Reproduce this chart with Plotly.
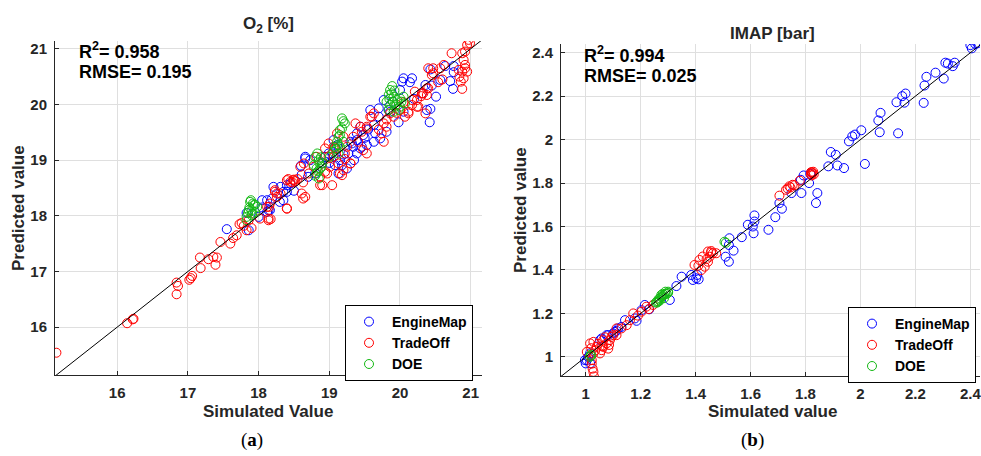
import plotly.graph_objects as go

# ---- O2 [%] panel: (simulated, predicted) per data source ----
o2_engine_sim = [17.55, 17.86, 17.83, 18.0, 18.12, 18.3, 18.35, 18.16, 18.12, 18.21, 18.31, 18.4,
                 18.45, 18.61, 18.66, 18.8, 18.94, 18.99, 19.06, 19.08, 19.15, 19.13, 19.25, 19.27,
                 19.34, 19.39, 19.46, 19.39, 19.32, 19.11, 19.3, 19.44, 19.53, 19.39, 19.48, 19.63,
                 19.72, 19.65, 19.81, 19.63, 19.7, 19.7, 19.58, 19.86, 20.05, 19.98, 20.0, 20.03,
                 20.05, 20.14, 20.17, 20.31, 20.36, 20.42, 20.38, 20.43, 20.51, 20.45, 20.43, 20.57,
                 20.64, 20.76, 20.76, 20.71, 20.75, 19.77, 19.84, 19.44, 18.6, 18.7, 18.9, 19.2,
                 19.0, 18.5, 18.05, 19.55, 19.9, 20.2, 19.35, 19.5, 18.66, 18.05, 18.4, 18.35,
                 18.19, 18.14, 18.73, 18.94, 19.04, 19.18, 19.08]
o2_engine_pred = [17.76, 17.74, 18.05, 17.98, 18.07, 18.25, 18.28, 18.1, 18.28, 18.52, 18.52, 18.43,
                  18.58, 18.74, 19.03, 18.76, 19.06, 19.12, 19.36, 19.24, 19.0, 18.76, 18.85, 19.12,
                  19.24, 19.12, 19.24, 19.36, 19.3, 19.27, 19.33, 19.21, 19.27, 19.48, 19.45, 19.33,
                  19.39, 19.48, 19.51, 19.63, 19.78, 19.93, 19.9, 19.87, 19.87, 19.68, 20.26, 20.41,
                  20.47, 20.4, 20.47, 20.2, 20.35, 19.68, 19.9, 19.92, 20.14, 20.34, 20.63, 20.44,
                  20.69, 20.69, 20.58, 20.42, 20.28, 20.08, 19.9, 19.6, 18.9, 18.7, 18.95, 19.1,
                  18.95, 18.45, 18.15, 19.55, 20.05, 20.1, 19.0, 19.4, 19.06, 18.28, 18.55, 18.43,
                  18.31, 18.1, 19.0, 19.06, 19.12, 18.91, 18.91]

o2_trade_sim = [15.14, 16.14, 16.22, 16.23, 16.84, 16.86, 16.84, 17.02, 17.06, 17.04, 17.18, 17.17,
                17.29, 17.39, 17.36, 17.41, 17.46, 17.6, 17.69, 17.64, 17.73, 17.76, 17.79, 17.83,
                17.86, 17.9, 18.02, 18.14, 18.17, 18.4, 18.15, 18.63, 18.16, 18.12, 18.26, 18.23,
                18.31, 18.4, 18.45, 18.49, 18.42, 18.59, 18.64, 18.78, 18.87, 18.87, 18.97, 19.01,
                19.06, 19.13, 19.15, 19.2, 19.3, 19.22, 19.48, 19.53, 19.25, 19.34, 19.37, 19.44,
                19.53, 19.58, 19.63, 19.74, 19.81, 18.82, 18.99, 19.06, 19.11, 19.2, 19.41, 19.46,
                19.53, 19.77, 19.77, 19.81, 19.6, 19.91, 20.0, 19.86, 20.07, 20.12, 20.17, 20.05,
                20.24, 20.17, 20.12, 20.36, 20.24, 20.26, 20.21, 20.31, 20.33, 20.38, 20.38, 20.4,
                20.45, 20.4, 20.47, 20.47, 20.54, 20.57, 20.62, 20.73, 20.83, 20.84, 20.86, 20.88,
                20.88, 20.9, 20.92, 20.9, 20.92, 20.95, 20.92, 20.95, 20.97, 20.99, 20.88, 18.5,
                18.52, 18.55, 18.48, 18.66, 18.61, 18.4, 18.14, 18.23, 18.26, 18.63, 18.71, 19.04,
                18.9, 18.94, 19.18, 19.3, 19.22, 19.08, 18.99, 18.94, 19.7, 19.95, 20.3, 20.6]
o2_trade_pred = [15.54, 16.07, 16.14, 16.15, 16.59, 16.74, 16.8, 16.85, 16.92, 16.88, 17.06, 17.25,
                 17.22, 17.12, 17.26, 17.25, 17.53, 17.5, 17.65, 17.6, 17.85, 17.87, 17.82, 17.74,
                 17.92, 17.78, 17.95, 17.92, 17.94, 18.13, 18.16, 18.31, 18.22, 18.16, 18.34, 18.43,
                 18.4, 18.64, 18.61, 18.64, 18.66, 18.88, 18.94, 18.88, 18.7, 18.55, 18.76, 18.88,
                 19.06, 18.94, 18.76, 18.82, 18.94, 19.02, 19.18, 19.12, 19.24, 19.42, 19.66, 19.6,
                 19.6, 19.78, 19.84, 19.48, 19.6, 19.06, 19.06, 19.24, 19.48, 19.42, 19.33, 19.51,
                 19.57, 19.33, 19.66, 19.73, 19.78, 19.78, 19.9, 19.84, 19.78, 19.84, 20.08, 20.04,
                 19.96, 19.99, 19.87, 19.84, 20.08, 19.96, 20.23, 20.2, 20.2, 20.29, 20.17, 20.29,
                 20.53, 20.65, 20.65, 20.56, 20.4, 20.65, 20.71, 20.92, 20.62, 20.5, 20.41, 20.28,
                 20.59, 20.47, 20.65, 20.8, 20.71, 20.59, 20.95, 21.07, 21.16, 21.1, 20.92, 18.65,
                 18.62, 18.66, 18.6, 18.34, 18.4, 18.13, 17.95, 18.46, 18.4, 18.6, 18.76, 18.55,
                 18.55, 18.79, 18.73, 18.94, 19.12, 19.21, 19.3, 19.21, 19.55, 19.85, 20.15, 20.45]

o2_doe_sim = [17.88, 17.93, 17.86, 17.95, 17.83, 17.9, 17.98, 17.89, 17.91, 17.83, 17.9, 17.92,
              17.87, 17.95, 17.85, 18.8, 18.85, 18.78, 18.87, 18.82, 18.85, 18.9, 18.83, 18.88,
              18.84, 18.8, 18.89, 18.86, 18.82, 19.18, 19.22, 19.15, 19.18, 19.13, 19.2, 19.13,
              19.11, 19.08, 19.15, 19.06, 19.13, 19.01, 19.2, 19.15, 19.1, 19.89, 19.86, 19.84,
              19.91, 19.96, 20.0, 20.05, 19.81, 19.86, 19.93, 20.0, 20.07, 19.84, 19.91, 19.98,
              19.88, 19.95, 19.9, 20.02, 19.85, 19.92]
o2_doe_pred = [18.25, 18.19, 18.1, 18.07, 17.98, 18.01, 18.16, 18.28, 18.04, 17.92, 18.1, 18.22,
               18.15, 18.2, 18.05, 19.06, 19.0, 18.91, 18.85, 18.76, 18.67, 18.94, 19.12, 19.05,
               18.8, 18.72, 18.88, 18.95, 18.85, 19.75, 19.66, 19.54, 19.57, 19.42, 19.33, 19.27,
               19.33, 19.24, 19.24, 19.15, 19.12, 19.06, 19.7, 19.45, 19.2, 20.33, 20.26, 20.17,
               20.14, 20.08, 20.11, 20.14, 20.05, 19.99, 19.96, 19.96, 20.02, 19.9, 19.87, 19.9,
               20.2, 20.0, 20.05, 20.05, 20.1, 20.25]

# ---- IMAP [bar] panel ----
imap_engine_sim = [2.40, 2.418, 2.405, 2.425, 2.309, 2.318, 2.343, 2.336, 2.273, 2.303, 2.24, 2.233,
                   2.23, 2.164, 2.152, 2.131, 2.16, 2.137, 2.073, 2.065, 2.07, 2.003, 1.98, 1.97,
                   1.958, 1.892, 1.91, 1.916, 1.94, 2.016, 1.883, 1.817, 1.793, 1.783, 1.813, 1.785,
                   1.749, 1.843, 1.838, 1.705, 1.714, 1.69, 1.665, 1.614, 1.614, 1.59, 1.608, 1.611,
                   1.568, 1.523, 1.521, 1.538, 1.509, 1.521, 1.349, 1.33, 1.306, 1.39, 1.411, 1.406,
                   1.402, 1.384, 1.231, 1.203, 1.215, 1.185, 1.179, 1.143, 1.13, 1.112, 1.118, 1.1,
                   1.106, 1.076, 1.082, 1.052, 1.058, 1.016, 1.004, 1.0, 1.009, 1.016, 0.997]
imap_engine_pred = [2.435, 2.44, 2.42, 2.443, 2.354, 2.35, 2.354, 2.338, 2.308, 2.281, 2.289, 2.249,
                    2.169, 2.212, 2.20, 2.172, 2.17, 2.029, 2.123, 2.088, 2.034, 2.043, 2.023, 2.015,
                    1.992, 1.943, 1.93, 1.881, 1.869, 1.888, 1.877, 1.843, 1.835, 1.815, 1.8, 1.754,
                    1.754, 1.754, 1.708, 1.708, 1.682, 1.643, 1.585, 1.651, 1.623, 1.608, 1.6, 1.569,
                    1.551, 1.546, 1.515, 1.489, 1.461, 1.438, 1.369, 1.326, 1.262, 1.354, 1.357, 1.377,
                    1.362, 1.377, 1.219, 1.215, 1.239, 1.166, 1.177, 1.169, 1.138, 1.12, 1.131, 1.108,
                    1.115, 1.1, 1.1, 1.077, 1.085, 1.016, 0.985, 0.97, 1.0, 0.97, 0.985]

imap_trade_sim = [1.823, 1.82, 1.825, 1.82, 1.83, 1.822, 1.828, 1.741, 1.753, 1.729, 1.705, 1.779,
                  1.745, 1.735, 1.76, 1.433, 1.451, 1.463, 1.445, 1.421, 1.456, 1.445, 1.457, 1.475,
                  1.414, 1.396, 1.426, 1.44, 1.41, 1.221, 1.245, 1.203, 1.173, 1.161, 1.149, 1.112,
                  1.19, 1.23, 1.016, 1.028, 1.04, 1.058, 1.076, 1.088, 1.094, 1.064, 1.052, 1.028,
                  1.004, 1.064, 1.082, 1.112, 1.13, 1.07, 1.045, 1.035, 1.02, 1.1, 1.085, 1.06,
                  1.022, 1.025, 1.028, 1.03, 1.022]
imap_trade_pred = [1.849, 1.84, 1.845, 1.85, 1.84, 1.835, 1.852, 1.785, 1.792, 1.769, 1.742, 1.811,
                   1.78, 1.775, 1.79, 1.415, 1.461, 1.477, 1.438, 1.40, 1.48, 1.485, 1.487, 1.477,
                   1.446, 1.423, 1.462, 1.45, 1.42, 1.231, 1.239, 1.208, 1.2, 1.169, 1.146, 1.131,
                   1.19, 1.22, 1.062, 1.069, 1.046, 1.031, 1.062, 1.077, 1.092, 1.077, 1.016, 1.016,
                   1.023, 1.046, 1.038, 1.1, 1.131, 1.09, 1.06, 1.03, 1.04, 1.1, 1.055, 1.05,
                   0.969, 0.946, 0.931, 0.91, 0.985]

imap_doe_sim = [1.255, 1.26, 1.265, 1.27, 1.275, 1.28, 1.285, 1.29, 1.295, 1.3, 1.28, 1.27,
                1.26, 1.29, 1.3, 1.285, 1.275, 1.265, 1.505, 1.51, 1.015, 1.02, 1.018]
imap_doe_pred = [1.25, 1.255, 1.265, 1.27, 1.275, 1.28, 1.285, 1.29, 1.29, 1.295, 1.29, 1.26,
                 1.25, 1.3, 1.3, 1.27, 1.285, 1.255, 1.53, 1.525, 1.0, 1.005, 1.01]

o2_range = [15.12, 21.16]
imap_range = [0.91, 2.435]
o2_ticks = [16, 17, 18, 19, 20, 21]
imap_ticks = [1, 1.2, 1.4, 1.6, 1.8, 2, 2.2, 2.4]

W, H = 981, 456
BLUE, RED, GREEN = "rgb(0,0,255)", "rgb(255,0,0)", "rgb(20,185,20)"
TXT = "#262626"
FONT = "Liberation Sans"


def px(x):
    return x / W


def py(y):
    return 1 - y / H


fig = go.Figure()

series = [
    ("EngineMap", BLUE, o2_engine_sim, o2_engine_pred, imap_engine_sim, imap_engine_pred),
    ("TradeOff", RED, o2_trade_sim, o2_trade_pred, imap_trade_sim, imap_trade_pred),
    ("DOE", GREEN, o2_doe_sim, o2_doe_pred, imap_doe_sim, imap_doe_pred),
]

for name, col, xs1, ys1, xs2, ys2 in series:
    mk = dict(symbol="circle-open", size=9, color=col, line=dict(width=1, color=col))
    fig.add_trace(go.Scatter(x=xs1, y=ys1, mode="markers", name=name, marker=mk,
                             xaxis="x", yaxis="y", legend="legend"))
    fig.add_trace(go.Scatter(x=xs2, y=ys2, mode="markers", name=name, marker=mk,
                             xaxis="x2", yaxis="y2", legend="legend2"))

# 1:1 reference lines across each axis range
fig.add_trace(go.Scatter(x=o2_range, y=o2_range, mode="lines", line=dict(color="black", width=1),
                         showlegend=False, xaxis="x", yaxis="y", hoverinfo="skip"))
fig.add_trace(go.Scatter(x=imap_range, y=imap_range, mode="lines", line=dict(color="black", width=1),
                         showlegend=False, xaxis="x2", yaxis="y2", hoverinfo="skip"))

axis_common = dict(
    showgrid=True, gridcolor="rgb(223,223,223)", gridwidth=1, zeroline=False,
    showline=True, linecolor=TXT, linewidth=1, ticks="inside", ticklen=4, tickcolor=TXT,
    tickfont=dict(family=FONT, size=15, color=TXT, weight="bold"), mirror=False,
    automargin=False, ticklabeloverflow="allow",
)

legend_style = dict(xanchor="left", yanchor="top", bgcolor="white", bordercolor="black",
                    borderwidth=1, tracegroupgap=0, itemwidth=36,
                    font=dict(family=FONT, size=14, color="black", weight="bold"))

fig.update_layout(
    width=W, height=H, margin=dict(l=0, r=0, t=0, b=0, autoexpand=False),
    paper_bgcolor="white", plot_bgcolor="white",
    xaxis=dict(domain=[px(55), px(482)], range=o2_range, tickvals=o2_ticks, anchor="y",
               ticklabelstandoff=4, **axis_common),
    yaxis=dict(domain=[py(375), py(41)], range=[15.14, 21.14], tickvals=o2_ticks, anchor="x",
               ticklabelstandoff=4, **axis_common),
    xaxis2=dict(domain=[px(561), px(980)], range=imap_range, tickvals=imap_ticks, anchor="y2",
                ticklabelstandoff=4, **axis_common),
    yaxis2=dict(domain=[py(376), py(44)], range=[0.912, 2.44], tickvals=imap_ticks, anchor="x2",
                ticklabelstandoff=4, **axis_common),
    legend=dict(x=px(345), y=py(305), **legend_style),
    legend2=dict(x=px(848), y=py(307), **legend_style),
    showlegend=True,
)


def label(text, x, y, size=17, angle=0, family=FONT, xanchor="center", weight="bold", color=TXT):
    fig.add_annotation(text=text, x=px(x), y=py(y), xref="paper", yref="paper", showarrow=False,
                       xanchor=xanchor, yanchor="middle", textangle=angle,
                       font=dict(family=family, size=size, color=color, weight=weight))


# panel titles
label("O<sub>2</sub> [%]", 268, 25)
label("IMAP [bar]", 772, 33)
# axis titles
label("Simulated Value", 268, 411)
label("Simulated value", 772, 411)
label("Predicted value", 18, 208, angle=-90)
label("Predicted value", 520, 210, angle=-90)
# metrics
label("R<sup>2</sup>= 0.958", 77, 51, size=18, xanchor="left", color="black")
label("RMSE= 0.195", 77, 72, size=18, xanchor="left", color="black")
label("R<sup>2</sup>= 0.994", 582, 55, size=18, xanchor="left", color="black")
label("RMSE= 0.025", 582, 76, size=18, xanchor="left", color="black")
# sub-figure captions
label("(<b>a</b>)", 252, 440, size=19, family="Liberation Serif", weight="normal", color="black")
label("(<b>b</b>)", 752, 440, size=19, family="Liberation Serif", weight="normal", color="black")

# the page's default 8px body margin would shift the figure off its 981x456 frame
fig.write_html("out.html", config={"displayModeBar": False},
               post_script="document.body.style.margin='0';document.body.style.padding='0';")
